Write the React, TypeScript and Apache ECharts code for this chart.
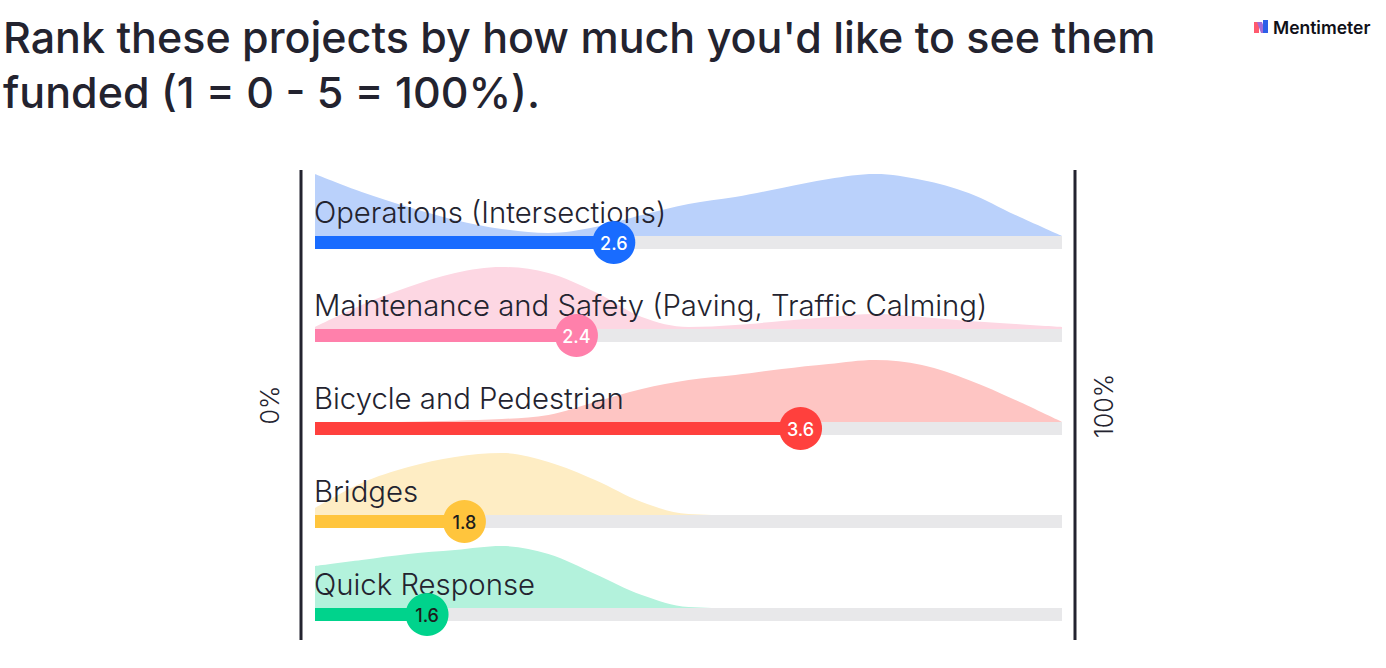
import React, { useEffect, useRef } from "react";
import * as echarts from "echarts";

const titleLines = ["Rank these projects by how much you'd like to see them", "funded (1 = 0 - 5 = 100%)."];
const categories = [
  "Operations (Intersections)",
  "Maintenance and Safety (Paving, Traffic Calming)",
  "Bicycle and Pedestrian",
  "Bridges",
  "Quick Response",
];
const means = [2.6, 2.4, 3.6, 1.8, 1.6];
const scalePoints = [1, 1.25, 1.5, 1.75, 2, 2.25, 2.5, 2.75, 3, 3.25, 3.5, 3.75, 4, 4.25, 4.5, 4.75, 5];
const densityOperations = [62, 44, 29, 16, 7, 3, 9, 21, 32, 39, 48, 57, 62, 56, 43, 21, 0];
const densityMaintenance = [2, 24, 42, 56, 62, 56, 37, 12, 2, 4, 8, 12, 15, 12, 8, 5, 2];
const densityBicycle = [0, 0, 0.3, 1.3, 3, 7, 20, 33, 42, 47, 53, 58, 62, 57, 42, 22, 0];
const densityBridges = [7, 32, 48, 58, 62, 53, 35, 13, 1, 0, 0, 0, 0, 0, 0, 0, 0];
const densityQuick = [42, 48, 54, 58, 62, 54, 34, 13, 1, 0, 0, 0, 0, 0, 0, 0, 0];
const densities = [densityOperations, densityMaintenance, densityBicycle, densityBridges, densityQuick];
const barColors = ["#196cff", "#ff80ab", "#ff403d", "#ffc53d", "#00d38c"];
const areaColors = ["#bad1fb", "#fdd7e3", "#fec5c3", "#feedc4", "#b3f2dc"];
const valueTextColors = ["#ffffff", "#ffffff", "#ffffff", "#1d1d1d", "#1d1d1d"];

const FONT = "Inter, 'Noto Sans', sans-serif";
const DARK = "#23232f";

export default function App() {
  const ref = useRef<HTMLDivElement>(null);
  useEffect(() => {
    if (!ref.current) return;
    const chart = echarts.init(ref.current, null, { renderer: "svg" });
    const trackTops = [236, 329, 422, 515, 608];
    const densMax = 62;
    const grids = categories.map((_, i) => ({
      left: 315,
      width: 747,
      top: trackTops[i] - densMax,
      height: densMax,
    }));
    const xAxes = categories.map((_, i) => ({ type: "value", gridIndex: i, min: 1, max: 5, show: false }));
    const yAxes = categories.map((_, i) => ({ type: "value", gridIndex: i, min: 0, max: densMax, show: false }));
    const areaSeries = categories.map((_, i) => ({
      type: "line",
      xAxisIndex: i,
      yAxisIndex: i,
      smooth: 0.35,
      symbol: "none",
      lineStyle: { width: 0 },
      areaStyle: { color: areaColors[i], opacity: 1 },
      data: scalePoints.map((p, k) => [p, densities[i][k]]),
      z: 1,
      silent: true,
    }));
    const barSeries = categories.map((name, i) => ({
      type: "custom",
      xAxisIndex: i,
      yAxisIndex: i,
      z: 3,
      data: [[means[i], 0]],
      renderItem: (params: any, api: any) => {
        const v = api.value(0);
        const p0 = api.coord([1, 0]);
        const p1 = api.coord([5, 0]);
        const pv = api.coord([v, 0]);
        const h = 13;
        const cy = p0[1] + h / 2;
        return {
          type: "group",
          children: [
            { type: "rect", shape: { x: p0[0], y: p0[1], width: p1[0] - p0[0], height: h }, style: { fill: "#e8e8ea" } },
            { type: "rect", shape: { x: p0[0], y: p0[1], width: pv[0] - p0[0], height: h }, style: { fill: barColors[i] } },
            {
              type: "text",
              x: p0[0] - 1,
              y: p0[1] - 24,
              style: { text: name, fontSize: 29.3, fontWeight: 300, fontFamily: FONT, fill: DARK, align: "left", verticalAlign: "middle" },
            },
            { type: "circle", shape: { cx: pv[0], cy, r: 21.5 }, style: { fill: barColors[i] } },
            {
              type: "text",
              x: pv[0],
              y: cy + 1,
              style: {
                text: String(v),
                fontSize: 18,
                fontWeight: 500,
                fontFamily: FONT,
                fill: valueTextColors[i],
                align: "center",
                verticalAlign: "middle",
              },
            },
          ],
        };
      },
    }));
    const option: any = {
      animation: false,
      title: {
        text: titleLines.join("\n"),
        left: -2,
        top: 4,
        textStyle: { fontFamily: FONT, fontSize: 43, fontWeight: 500, color: DARK, lineHeight: 55 },
      },
      grid: grids,
      xAxis: xAxes,
      yAxis: yAxes,
      series: [...areaSeries, ...barSeries],
      graphic: [
        { type: "line", shape: { x1: 301, y1: 170, x2: 301, y2: 640 }, style: { stroke: DARK, lineWidth: 3 } },
        { type: "line", shape: { x1: 1075, y1: 170, x2: 1075, y2: 640 }, style: { stroke: DARK, lineWidth: 3 } },
        {
          type: "text",
          x: 270,
          y: 405,
          rotation: Math.PI / 2,
          style: { text: "0%", fontSize: 25, fontWeight: 300, fontFamily: FONT, fill: DARK, align: "center", verticalAlign: "middle" },
        },
        {
          type: "text",
          x: 1104,
          y: 406,
          rotation: Math.PI / 2,
          style: { text: "100%", fontSize: 25, fontWeight: 300, fontFamily: FONT, fill: DARK, align: "center", verticalAlign: "middle" },
        },
        { type: "polygon", shape: { points: [[1254, 22], [1259, 22], [1259, 33], [1254, 33]] }, style: { fill: "#ff5a6e" } },
        { type: "polygon", shape: { points: [[1257, 22], [1262, 22], [1266, 33], [1261, 33]] }, style: { fill: "#a36bd6" } },
        { type: "polygon", shape: { points: [[1263, 20], [1268, 20], [1268, 33], [1263, 33]] }, style: { fill: "#2d5fe8" } },
        {
          type: "text",
          x: 1273,
          y: 27,
          style: { text: "Mentimeter", fontSize: 17.5, fontWeight: 600, fontFamily: FONT, fill: "#101018", align: "left", verticalAlign: "middle" },
        },
      ],
    };
    chart.setOption(option);
    return () => chart.dispose();
  }, []);
  return <div ref={ref} style={{ position: "absolute", left: 0, top: 0, width: 1386, height: 668 }} />;
}
